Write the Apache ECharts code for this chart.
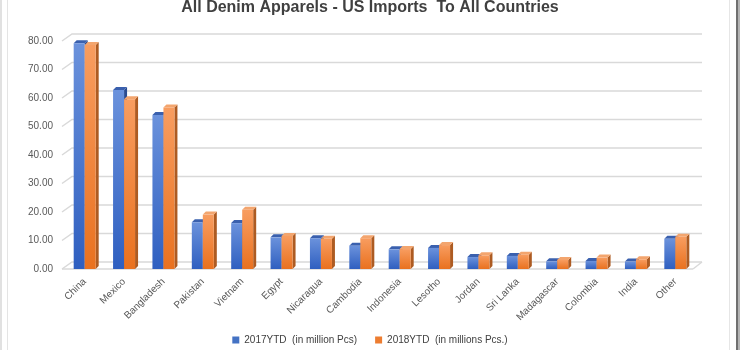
<!DOCTYPE html>
<html>
<head>
<meta charset="utf-8">
<script src="https://cdn.jsdelivr.net/npm/echarts@6/dist/echarts.min.js"></script>
<style>
  html, body { margin: 0; padding: 0; background: #ffffff; }
  #chart { width: 740px; height: 350px; }
</style>
</head>
<body>
<div id="chart"></div>
<script>
// Denim apparel imports by country of origin, millions of pieces
const countries = ['China', 'Mexico', 'Bangladesh', 'Pakistan', 'Vietnam', 'Egypt', 'Nicaragua', 'Cambodia',
  'Indonesia', 'Lesotho', 'Jordan', 'Sri Lanka', 'Madagascar', 'Colombia', 'India', 'Other'];
const ytd2017 = [79.2, 62.8, 54.0, 16.4, 16.1, 11.1, 10.8, 8.2, 6.9, 7.4, 4.2, 4.6, 2.7, 2.8, 2.6, 10.6];
const ytd2018 = [78.6, 59.6, 56.7, 19.1, 20.8, 11.6, 10.6, 10.8, 7.0, 8.4, 4.8, 5.0, 3.2, 4.0, 3.4, 11.3];
const yTicks = [0, 10, 20, 30, 40, 50, 60, 70, 80];
const seriesNames = ['2017YTD  (in million Pcs)', '2018YTD  (in millions Pcs.)'];

const DEPTH_X = 3, DEPTH_Y = 3, BAR_W = 11;
const BACK_X = 7, BACK_Y = 7;

const palettes = [
  { front: ['#6b92dc', '#2f5fc0'], top: '#3a60ae', side: '#2a4b90', legend: '#4472c4' },
  { front: ['#f89d60', '#e9711f'], top: '#f3a56e', side: '#ad5b22', legend: '#ed7d31' }
];

function barRenderer(seriesIdx) {
  const pal = palettes[seriesIdx];
  return function (params, api) {
    const i = api.value(0);
    const v = api.value(1);
    const top = api.coord([i, v]);
    const base = api.coord([i, 0]);
    const x0 = seriesIdx === 0 ? top[0] - BAR_W : top[0];
    const x1 = x0 + BAR_W;
    const yT = top[1], yB = base[1];
    return {
      type: 'group',
      children: [
        { type: 'polygon', shape: { points: [[x1, yT], [x1 + DEPTH_X, yT - DEPTH_Y], [x1 + DEPTH_X, yB - DEPTH_Y], [x1, yB]] },
          style: { fill: pal.side } },
        { type: 'polygon', shape: { points: [[x0, yT], [x0 + DEPTH_X, yT - DEPTH_Y], [x1 + DEPTH_X, yT - DEPTH_Y], [x1, yT]] },
          style: { fill: pal.top } },
        { type: 'rect', shape: { x: x0, y: yT, width: BAR_W, height: yB - yT },
          style: { fill: new echarts.graphic.LinearGradient(0, 0, 0, 1, [
            { offset: 0, color: pal.front[0] }, { offset: 1, color: pal.front[1] }]) } }
      ]
    };
  };
}

// Back-wall gridlines with a slanted left edge and a floor edge
function gridRenderer(params, api) {
  const cs = params.coordSys;
  const y = api.coord([0, api.value(0)])[1];
  const left = cs.x - 3;
  const children = [{
    type: 'polyline',
    shape: { points: [[left, y], [left + BACK_X + 3, y - BACK_Y], [cs.x + cs.width + BACK_X, y - BACK_Y]] },
    style: { stroke: '#d9d9d9', lineWidth: 1.5, fill: null }
  }];
  if (api.value(0) === 0) {
    children.push({ type: 'line', shape: { x1: left, y1: y, x2: cs.x + cs.width - 2, y2: y },
      style: { stroke: '#d9d9d9', lineWidth: 1.5 } });
    children.push({ type: 'line', shape: { x1: cs.x + cs.width - 2, y1: y, x2: cs.x + cs.width + BACK_X, y2: y - BACK_Y },
      style: { stroke: '#d9d9d9', lineWidth: 1.5 } });
  }
  return { type: 'group', children: children };
}

const chart = echarts.init(document.getElementById('chart'), null, { renderer: 'canvas' });
chart.setOption({
  animation: false,
  textStyle: { fontFamily: 'Liberation Sans' },
  graphic: [
    { type: 'text', left: 'center', top: 0,
      style: { text: 'All Denim Apparels - US Imports  To All Countries', font: 'bold 16px "Liberation Sans"', fill: '#404040' } },
    { type: 'rect', shape: { x: 0.5, y: -1, width: 1, height: 352 }, style: { fill: '#c4c4c4' } },
    { type: 'rect', shape: { x: 7, y: -1, width: 1, height: 352 }, style: { fill: '#e4e4e4' } },
    { type: 'rect', shape: { x: 729, y: -1, width: 1, height: 352 }, style: { fill: '#e6e6e6' } },
    { type: 'rect', shape: { x: 736, y: -1, width: 2, height: 352 }, style: { fill: '#707070' } },
    { type: 'rect', shape: { x: 738, y: -1, width: 2, height: 352 }, style: { fill: '#b4b4b4' } }
  ],
  legend: {
    bottom: 0,
    left: 'center',
    itemWidth: 7,
    itemHeight: 7,
    itemGap: 18,
    icon: 'rect',
    textStyle: { fontSize: 10, color: '#404040', fontFamily: 'Liberation Sans' },
    data: [
      { name: seriesNames[0], itemStyle: { color: palettes[0].legend } },
      { name: seriesNames[1], itemStyle: { color: palettes[1].legend } }
    ]
  },
  grid: { left: 65, right: 45, top: 41, bottom: 81 },
  xAxis: {
    type: 'category',
    data: countries,
    axisLine: { show: false },
    axisTick: { show: false },
    axisLabel: { rotate: 45, fontSize: 10, color: '#595959', margin: 11, interval: 0 }
  },
  yAxis: {
    type: 'value',
    min: 0,
    max: 80,
    interval: 10,
    splitLine: { show: false },
    axisLine: { show: false },
    axisTick: { show: false },
    axisLabel: { fontSize: 10, color: '#595959', margin: 12, formatter: v => v.toFixed(2) }
  },
  series: [
    { type: 'custom', name: 'grid', renderItem: gridRenderer, data: yTicks.map(v => [v]),
      encode: { y: 0 }, silent: true, z: 1, legendHoverLink: false },
    { type: 'custom', name: seriesNames[0], renderItem: barRenderer(0),
      data: ytd2017.map((v, i) => [i, v]), encode: { x: 0, y: 1 }, z: 2,
      itemStyle: { color: palettes[0].legend } },
    { type: 'custom', name: seriesNames[1], renderItem: barRenderer(1),
      data: ytd2018.map((v, i) => [i, v]), encode: { x: 0, y: 1 }, z: 3,
      itemStyle: { color: palettes[1].legend } }
  ]
});
</script>
</body>
</html>
